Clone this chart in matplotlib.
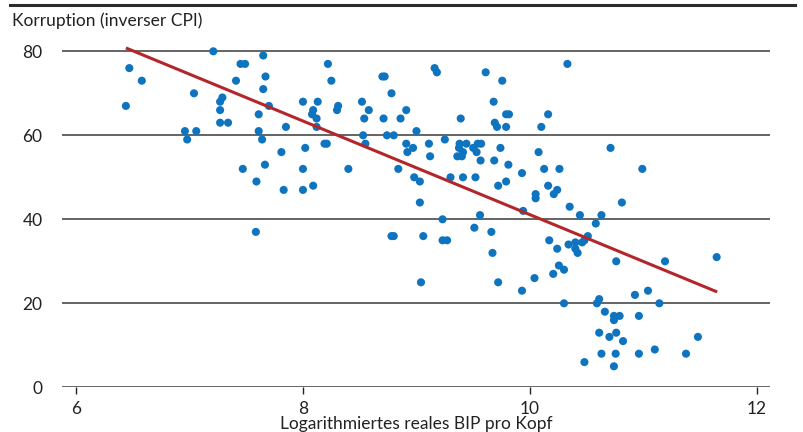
import matplotlib
matplotlib.use("Agg")
import matplotlib.pyplot as plt
from matplotlib.lines import Line2D

gdp_log = [
    6.44, 6.47, 6.58, 6.96, 6.98, 7.04, 7.06, 7.21, 7.27, 7.27, 7.29, 7.27, 7.34, 7.41,
    7.45, 7.49, 7.47, 7.59, 7.585, 7.61, 7.61, 7.64, 7.65, 7.65, 7.67, 7.665, 7.70, 7.81,
    7.83, 7.85, 8.00, 8.00, 8.00, 8.02, 8.08, 8.09, 8.09, 8.12, 8.12, 8.13, 8.19, 8.21,
    8.22, 8.25, 8.30, 8.31, 8.40, 8.52, 8.53, 8.54, 8.55, 8.58, 8.70, 8.72, 8.71, 8.74,
    8.78, 8.78, 8.80, 8.80, 8.84, 8.86, 8.91, 8.91, 8.92, 8.97, 8.98, 9.00, 9.03, 9.03,
    9.04, 9.06, 9.11, 9.12, 9.16, 9.18, 9.23, 9.23, 9.27, 9.25, 9.30, 9.36, 9.375, 9.39,
    9.38, 9.40, 9.41, 9.41, 9.44, 9.50, 9.51, 9.52, 9.53, 9.54, 9.56, 9.565, 9.57, 9.61,
    9.66, 9.67, 9.68, 9.685, 9.69, 9.71, 9.72, 9.72, 9.74, 9.756, 9.79, 9.815, 9.79, 9.79,
    9.81, 9.93, 9.93, 9.94, 10.04, 10.05, 10.05, 10.076, 10.10, 10.125, 10.16, 10.16, 10.17,
    10.205, 10.21, 10.24, 10.24, 10.255, 10.26, 10.30, 10.30, 10.33, 10.34, 10.35, 10.40,
    10.40, 10.42, 10.44, 10.46, 10.48, 10.48, 10.51, 10.58, 10.59, 10.61, 10.61, 10.63,
    10.63, 10.66, 10.70, 10.71, 10.74, 10.74, 10.74, 10.755, 10.76, 10.76, 10.79, 10.81,
    10.82, 10.925, 10.96, 10.96, 10.99, 11.04, 11.10, 11.14, 11.19, 11.375, 11.48, 11.645,
]
corruption = [
    67, 76, 73, 61, 59, 70, 61, 80, 66, 68, 69, 63, 63, 73,
    77, 77, 52, 49, 37, 65, 61, 59, 71, 79, 74, 53, 67, 56,
    47, 62, 68, 52, 47, 57, 65, 66, 48, 64, 62, 68, 58, 58,
    77, 73, 66, 67, 52, 68, 60, 64, 58, 66, 74, 74, 64, 60,
    70, 36, 36, 60, 52, 64, 66, 58, 56, 57, 50, 61, 49, 44,
    25, 36, 58, 55, 76, 75, 40, 35, 35, 59, 50, 55, 57, 64,
    58, 55, 56, 50, 58, 57, 38, 50, 56, 58, 41, 54, 58, 75,
    37, 32, 68, 54, 63, 62, 48, 25, 57, 73, 65, 65, 62, 49,
    53, 51, 23, 42, 26, 46, 45, 56, 62, 52, 65, 48, 35,
    27, 46, 47, 33, 29, 52, 28, 20, 77, 34, 43, 34.5,
    33, 32, 41, 34.5, 35, 6, 36, 39, 20, 21, 13, 41,
    8, 18, 12, 57, 17, 16, 5, 8, 30, 13, 17, 44,
    11, 22, 17, 8, 52, 23, 9, 20, 30, 8, 12, 31,
]

# fitted line endpoints
fit_x = [6.44, 11.65]
fit_y = [80.8, 22.7]

y_ticks = [0, 20, 40, 60, 80]
x_ticks = [6, 8, 10, 12]

plt.rcParams["font.family"] = ["Lato", "DejaVu Sans"]

fig = plt.figure(figsize=(8.04, 4.32), dpi=100)
ax = fig.add_axes([62 / 804, (432 - 387.3) / 432, 708 / 804, 85 * 4.2 / 432])

ax.set_xlim(5.877, 12.115)
ax.set_ylim(0, 85)

for yv in y_ticks:
    ax.axhline(yv, color="#4a4a4a", lw=1.2, zorder=1)

ax.scatter(gdp_log, corruption, s=34, color="#0f74bf", edgecolors="none", zorder=3)
ax.plot(fit_x, fit_y, color="#b3262a", lw=2.2, zorder=4, solid_capstyle="butt")

for s in ax.spines.values():
    s.set_visible(False)

ax.set_yticks(y_ticks)
ax.set_xticks(x_ticks)
ax.tick_params(axis="y", length=0, pad=14, labelsize=12.5, labelcolor="#222222")
ax.tick_params(axis="x", length=5, width=1, color="#222222", pad=5,
               labelsize=12.5, labelcolor="#222222")

ax.set_xlabel("Logarithmiertes reales BIP pro Kopf", fontsize=12.5, color="#222222",
              labelpad=-1)

fig.text(12 / 804, 1 - 21 / 432, "Korruption (inverser CPI)", fontsize=12.5,
         color="#222222", va="center", ha="left")

# dark rule along the top
fig.add_artist(Line2D([10 / 804, 795 / 804], [1 - 5 / 432, 1 - 5 / 432],
                      color="#2b2b2b", lw=2.2, transform=fig.transFigure))

fig.savefig("out.png", dpi=100)
